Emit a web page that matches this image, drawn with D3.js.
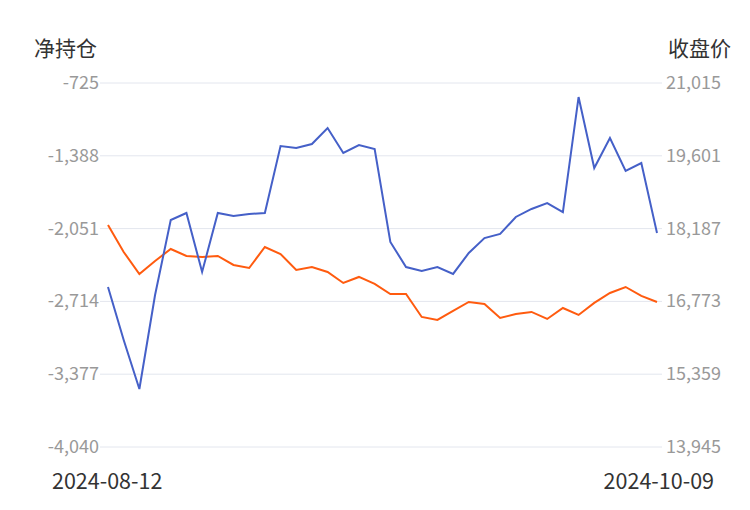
<!DOCTYPE html>
<html><head><meta charset="utf-8">
<script src="https://cdn.jsdelivr.net/npm/d3@7"></script>
<style>body{margin:0;background:#fff}text{font-family:"Noto Sans CJK SC","Noto Sans",sans-serif}</style>
</head><body><svg id="c" width="750" height="510"></svg>
<script>
const netPos=[-2583,-3065,-3512,-2656,-1973,-1909,-2446,-1909,-1936,-1918,-1909,-1299,-1317,-1281,-1135,-1362,-1290,-1326,-2173,-2401,-2437,-2401,-2464,-2273,-2137,-2100,-1945,-1872,-1818,-1900,-853,-1499,-1226,-1526,-1454,-2091];
const close=[18257,17733,17306,17558,17791,17655,17636,17655,17481,17422,17830,17694,17383,17442,17345,17131,17248,17112,16917,16917,16471,16412,16587,16762,16723,16451,16529,16568,16432,16645,16510,16743,16937,17053,16879,16762];
const leftTicks=[-725,-1388,-2051,-2714,-3377,-4040];
const rightTicks=[21015,19601,18187,16773,15359,13945];
const dateLabels=["2024-08-12","2024-10-09"];

const svg=d3.select("#c");
const x=d3.scaleLinear().domain([0,netPos.length-1]).range([108,657]);
const yL=d3.scaleLinear().domain([-4040,-725]).range([447,83]);
const yR=d3.scaleLinear().domain([13945,21015]).range([447,83]);
const fmt=d3.format(",");
svg.append("g").selectAll("line").data(leftTicks).join("line")
 .attr("x1",100).attr("x2",662).attr("y1",d=>yL(d)).attr("y2",d=>yL(d))
 .attr("stroke","#e3e6ee").attr("stroke-width",1);
svg.append("g").selectAll("text").data(leftTicks).join("text")
 .attr("x",99).attr("y",d=>yL(d)+6).attr("text-anchor","end").attr("font-size",18).attr("fill","#999")
 .text(d=>fmt(d).replace("−","-"));
svg.append("g").selectAll("text").data(rightTicks).join("text")
 .attr("x",666).attr("y",d=>yR(d)+6).attr("text-anchor","start").attr("font-size",18).attr("fill","#999")
 .text(d=>fmt(d));
svg.append("text").attr("x",34).attr("y",56).attr("font-size",21).attr("fill","#333").text("净持仓");
svg.append("text").attr("x",731).attr("y",56).attr("text-anchor","end").attr("font-size",21).attr("fill","#333").text("收盘价");
svg.append("text").attr("x",52).attr("y",489).attr("font-size",21.5).attr("fill","#333").text(dateLabels[0]);
svg.append("text").attr("x",714).attr("y",489).attr("text-anchor","end").attr("font-size",21.5).attr("fill","#333").text(dateLabels[1]);
svg.append("path").datum(close).attr("fill","none").attr("stroke","#ff5b0f").attr("stroke-width",2)
 .attr("d",d3.line().x((d,i)=>x(i)).y(d=>yR(d)));
svg.append("path").datum(netPos).attr("fill","none").attr("stroke","#4560c8").attr("stroke-width",2)
 .attr("d",d3.line().x((d,i)=>x(i)).y(d=>yL(d)));
</script></body></html>
